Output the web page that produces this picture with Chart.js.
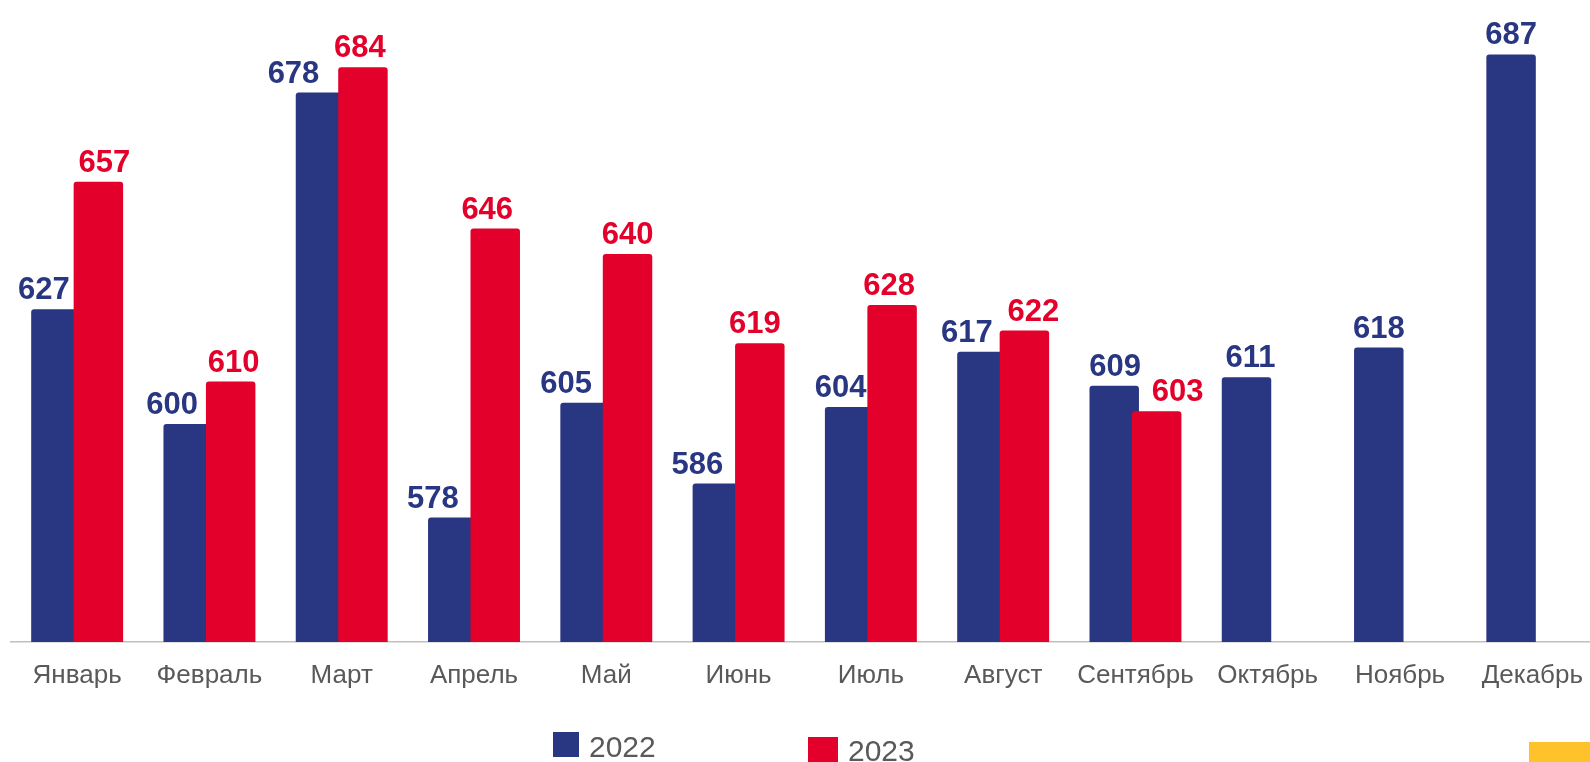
<!DOCTYPE html>
<html><head><meta charset="utf-8">
<script src="https://cdn.jsdelivr.net/npm/chart.js@4.4.0/dist/chart.umd.min.js"></script>
<style>
html,body{margin:0;padding:0;background:#fff;overflow:hidden;width:1590px;height:762px;}
#wrap{position:absolute;left:0;top:0;width:1601px;height:762px;}
.lgt{position:absolute;font-family:"Liberation Sans",Arial,sans-serif;font-size:30px;line-height:30px;color:#595959;white-space:nowrap}
.lgs{position:absolute}
#deco{position:absolute;left:1529px;top:742px;width:61px;height:20px;background:#FEC22B}
</style></head><body>
<div id="wrap"><canvas id="c"></canvas></div>
<div id="legend"></div>
<div id="deco"></div>
<script>
// ---- data ----
const categories = ['Январь','Февраль','Март','Апрель','Май','Июнь','Июль','Август','Сентябрь','Октябрь','Ноябрь','Декабрь'];
const series2022 = [627, 600, 678, 578, 605, 586, 604, 617, 609, 611, 618, 687];
const series2023 = [657, 610, 684, 646, 640, 619, 628, 622, 603, null, null, null];
const seriesNames = ['2022', '2023'];

// ---- styles ----
const BLUE = '#293681';
const RED = '#E3002B';
const FONT = '"Liberation Sans", Arial, sans-serif';

// label nudges (horizontal, px) to mimic the reference label placement
const labelNudge = [
  [-12, -16, -27, -20, -19, -20, -9, -15, 1, 4, 0, 0],
  [6, 3, -3, -8, 0, -5, -3, 9, 21, 0, 0, 0]
];

const drawInOrder = {
  id: 'drawInOrder',
  beforeDatasetsDraw(chart) {
    const ctx = chart.ctx;
    const a = chart.chartArea;
    ctx.save();
    ctx.beginPath();
    ctx.rect(a.left, a.top - 50, a.right - a.left, a.bottom - a.top + 50);
    ctx.clip();
    chart.data.datasets.forEach((ds, i) => {
      const meta = chart.getDatasetMeta(i);
      if (!meta.hidden) meta.controller.draw();
    });
    ctx.restore();
    return false;
  }
};

const valueLabels = {
  id: 'valueLabels',
  afterDraw(chart) {
    const ctx = chart.ctx;
    ctx.save();
    ctx.font = 'bold 31px ' + FONT;
    ctx.textAlign = 'center';
    ctx.textBaseline = 'alphabetic';
    chart.data.datasets.forEach((ds, i) => {
      const meta = chart.getDatasetMeta(i);
      ctx.fillStyle = ds.backgroundColor;
      meta.data.forEach((el, j) => {
        const v = ds.data[j];
        if (v === null || v === undefined) return;
        ctx.fillText(String(v), el.x + labelNudge[i][j], el.y - 10);
      });
    });
    ctx.restore();
  }
};

const chart = new Chart(document.getElementById('c'), {
  type: 'bar',
  data: {
    labels: categories,
    datasets: [
      { label: seriesNames[0], data: series2022, backgroundColor: BLUE, borderRadius: 3, borderSkipped: 'start' },
      { label: seriesNames[1], data: series2023, backgroundColor: RED, borderRadius: 3, borderSkipped: 'start' }
    ]
  },
  options: {
    responsive: true,
    maintainAspectRatio: false,
    animation: false,
    devicePixelRatio: 1,
    layout: { padding: { left: 11, right: 0, top: 0, bottom: 0 } },
    datasets: { bar: { categoryPercentage: 0.642, barPercentage: 1.165 } },
    plugins: { legend: { display: false }, tooltip: { enabled: false } },
    scales: {
      x: {
        grid: { display: false, drawTicks: false },
        border: { display: true, color: '#BFBFBF', width: 1.5 },
        ticks: { color: '#595959', font: { family: FONT, size: 26 }, padding: 18, maxRotation: 0, autoSkip: false },
        afterFit(scale) { scale.height = 120; }
      },
      y: { display: false, min: 548.7, max: 699.8 }
    }
  },
  plugins: [drawInOrder, valueLabels]
});

// ---- HTML legend built from the series ----
const legendLayout = [
  { sw: { left: 553, top: 732, w: 26, h: 25 }, text: { left: 589, top: 732 } },
  { sw: { left: 808, top: 737, w: 30, h: 26 }, text: { left: 848, top: 736 } }
];
const lg = document.getElementById('legend');
chart.data.datasets.forEach((ds, i) => {
  const L = legendLayout[i];
  const s = document.createElement('div');
  s.className = 'lgs';
  s.style.cssText = `left:${L.sw.left}px;top:${L.sw.top}px;width:${L.sw.w}px;height:${L.sw.h}px;background:${ds.backgroundColor}`;
  const t = document.createElement('div');
  t.className = 'lgt';
  t.style.left = L.text.left + 'px';
  t.style.top = L.text.top + 'px';
  t.textContent = ds.label;
  lg.appendChild(s);
  lg.appendChild(t);
});
</script>
</body></html>
